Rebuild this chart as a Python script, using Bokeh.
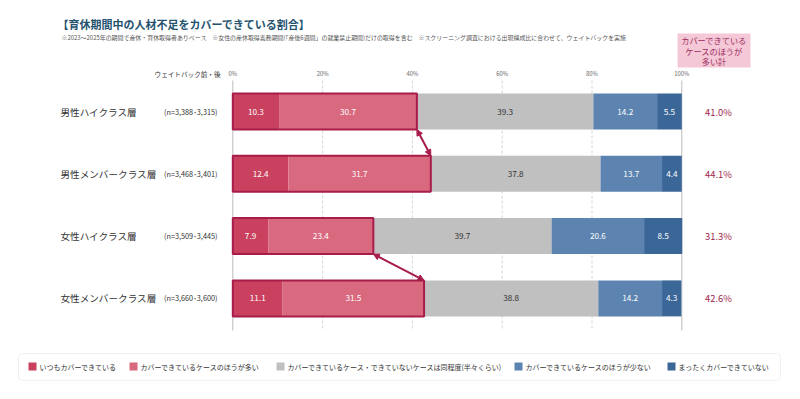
from bokeh.plotting import figure
from bokeh.models import Range1d, ColumnDataSource, Arrow, NormalHead, BoxAnnotation
from bokeh.core.properties import value
from bokeh.embed import file_html
from bokeh.resources import INLINE

# ---------------- data ----------------
categories = ["男性ハイクラス層", "男性メンバークラス層", "女性ハイクラス層", "女性メンバークラス層"]
n_labels = ["(n=3,388･3,315)", "(n=3,468･3,401)", "(n=3,509･3,445)", "(n=3,660･3,600)"]
always = [10.3, 12.4, 7.9, 11.1]
more = [30.7, 31.7, 23.4, 31.5]
same = [39.3, 37.8, 39.7, 38.8]
less = [14.2, 13.7, 20.6, 14.2]
never = [5.5, 4.4, 8.5, 4.3]
cover_total = [41.0, 44.1, 31.3, 42.6]
series_names = ["いつもカバーできている", "カバーできているケースのほうが多い",
                "カバーできているケース・できていないケースは同程度(半々くらい)",
                "カバーできているケースのほうが少ない", "まったくカバーできていない"]
tick_values = [0, 20, 40, 60, 80, 100]
tick_labels = ["0%", "20%", "40%", "60%", "80%", "100%"]

colors = ["#c9415f", "#d9697f", "#c0c0c0", "#5d84b0", "#3b6698"]
label_colors = ["white", "white", "#333333", "white", "white"]
HL = "#a81c4a"
FONT = value("Noto Sans CJK JP")

# ---------------- layout helpers (pixel -> data) ----------------
W, H = 800, 399
X0, KX = 232.3, 4.49      # px of 0%, px per percent
Y0, KY = 111.0, 62.3      # px of first row centre, px per row


def px(x):
    return (x - X0) / KX


def py(y):
    return (y - Y0) / KY


p = figure(width=W, height=H, output_backend="svg", toolbar_location=None,
           x_range=Range1d(px(0), px(W)), y_range=Range1d(py(H), py(0)),
           x_axis_type=None, y_axis_type=None, min_border=0)
p.outline_line_color = None
p.grid.visible = False
p.background_fill_color = "white"
p.border_fill_color = "white"

rows = list(range(len(categories)))
bar_h = 36 / KY

# background boxes (underlay)
p.add_layout(BoxAnnotation(left=px(677), right=px(750), top=py(33), bottom=py(67),
                           fill_color="#f5c8d8", fill_alpha=1, line_color=None,
                           level="underlay"))
p.add_layout(BoxAnnotation(left=px(18), right=px(780), top=py(353), bottom=py(380),
                           fill_color="white", fill_alpha=1, line_color="#cccccc",
                           line_width=1, border_radius=4, level="underlay"))

# gridlines
for t in tick_values:
    solid = t in (0, 100)
    p.segment(x0=[t], y0=[py(80)], x1=[t], y1=[py(330)],
              line_color="#bdbdbd" if solid else "#d6d6d6",
              line_width=1, line_dash="solid" if solid else "3 2")
p.text(x=tick_values, y=[py(73)] * len(tick_values), text=tick_labels,
       text_font=FONT, text_font_size="5.8px", text_color="#666666",
       text_align="center", text_baseline="middle")
p.text(x=[px(220)], y=[py(73)], text=["ウェイトバック前・後"], text_font=FONT,
       text_font_size="6.6px", text_color="#333333", text_align="right",
       text_baseline="middle")

# stacked bars
series = [always, more, same, less, never]
left = [0.0] * len(rows)
for s, col, lc in zip(series, colors, label_colors):
    right = [l + v for l, v in zip(left, s)]
    src = ColumnDataSource(dict(y=rows, left=left, right=right,
                                mid=[(l + r) / 2 for l, r in zip(left, right)],
                                lab=[f"{v:.1f}" for v in s]))
    p.hbar(y="y", left="left", right="right", height=bar_h, source=src,
           fill_color=col, line_color=None)
    p.text(x="mid", y="y", text="lab", source=src, text_font=FONT,
           text_font_size="8.2px", text_color=lc, text_align="center",
           text_baseline="middle")
    left = right

# highlight outline around "cover" segments
p.hbar(y=rows, left=[0] * len(rows), right=[a + m for a, m in zip(always, more)],
       height=bar_h, fill_color=None, line_color=HL, line_width=2)

# arrows between rows
for a, b in [(0, 1), (2, 3)]:
    p.add_layout(Arrow(x_start=always[a] + more[a], y_start=a + bar_h / 2,
                       x_end=always[b] + more[b], y_end=b - bar_h / 2,
                       line_color=HL, line_width=2,
                       start=NormalHead(size=6, fill_color=HL, line_color=HL),
                       end=NormalHead(size=6, fill_color=HL, line_color=HL)))

# category labels
p.text(x=[px(60)] * len(rows), y=rows, text=categories, text_font=FONT,
       text_font_size="9.6px", text_color="#333333", text_align="left",
       text_baseline="middle")
p.text(x=[px(217)] * len(rows), y=rows, text=n_labels, text_font=FONT,
       text_font_size="7.3px", text_color="#333333", text_align="right",
       text_baseline="middle")

# totals at right
p.text(x=[px(718)] * len(rows), y=rows, text=[f"{v:.1f}%" for v in cover_total],
       text_font=FONT, text_font_size="9.4px", text_color="#9e1f4c",
       text_align="center", text_baseline="middle")

# pink header box text
p.text(x=[px(713.5)] * 3, y=[py(39.5), py(50), py(60.5)],
       text=["カバーできている", "ケースのほうが", "多い計"], text_font=FONT,
       text_font_size="8.2px", text_color="#9b2c5c", text_align="center",
       text_baseline="middle")

# title and footnote
p.text(x=[px(57)], y=[py(23)], text=["【育休期間中の人材不足をカバーできている割合】"],
       text_font=FONT, text_font_size="11px", text_font_style="bold",
       text_color="#24526f", text_align="left", text_baseline="middle")
p.text(x=[px(61)], y=[py(37)],
       text=["※2023～2025年の期間で産休・育休取得者ありベース　※女性の産休取得義務期間(「産後6週間」の就業禁止期間)だけの取得を含む　※スクリーニング調査における出現構成比に合わせて、ウェイトバックを実施"],
       text_font=FONT, text_font_size="5.95px", text_color="#555555",
       text_align="left", text_baseline="middle")

# legend items
sq_x = [28, 129, 276, 514, 667]
for sx, col, name in zip(sq_x, colors, series_names):
    p.quad(left=[px(sx)], right=[px(sx + 8)], top=[py(362)], bottom=[py(370)],
           fill_color=col, line_color=None)
    p.text(x=[px(sx + 11)], y=[py(366)], text=[name], text_font=FONT,
           text_font_size="7px", text_color="#333333", text_align="left",
           text_baseline="middle")

open("out.html", "w").write(file_html(p, INLINE))
